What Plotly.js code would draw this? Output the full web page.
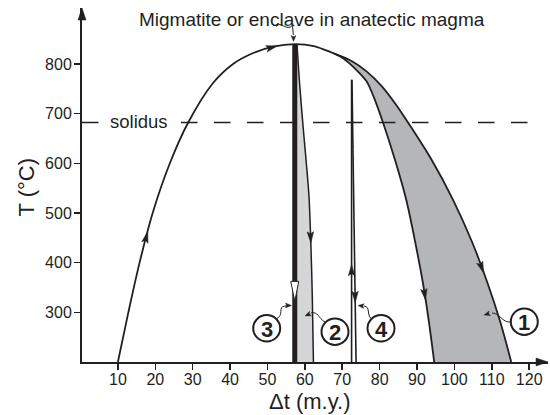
<!DOCTYPE html>
<html><head><meta charset="utf-8">
<script src="https://cdn.plot.ly/plotly-3.0.1.min.js"></script>
<style>html,body{margin:0;padding:0;background:#fff;}#chart{width:550px;height:415px;}</style>
</head><body><div id="chart"></div>
<script>
// ---- Data (Δt in m.y., T in °C) ----
const archX  = [10, 12.8, 15.8, 19.3, 23.9, 28.8, 35.5, 40.8, 46.2, 51.5, 57.4, 62.4, 67.5];
const archT  = [200, 300, 400, 500, 600, 682, 762, 800, 822, 835, 840, 836, 822];
const outerX = [67.5, 72.5, 76.5, 80.6, 84.4, 87.6, 93.9, 99.6, 104.7, 108.9, 112.3, 115.2];
const outerT = [822, 806, 785, 755, 718, 682, 607, 527, 442, 358, 280, 200];
const innerX = [67.5, 70.5, 73.5, 76.5, 78.6, 80.9, 84.1, 87.1, 89.5, 91.6, 93.2, 94.6];
const innerT = [822, 810, 790, 765, 730, 682, 607, 527, 442, 358, 280, 200];
const path2X = [57.9, 58.6, 59.6, 60.4, 61.1, 61.6, 62.0, 62.3];
const path2T = [840, 760, 668, 600, 534, 440, 330, 200];
const path3X = [57.3, 57.3];
const path3T = [840, 200];
const path4UpX = [72.5, 72.5];
const path4UpT = [200, 768];
const path4DownX = [72.6, 73.7];
const path4DownT = [768, 200];
const solidusT = 682;
const xTicks = [10, 20, 30, 40, 50, 60, 70, 80, 90, 100, 110, 120];
const yTicks = [300, 400, 500, 600, 700, 800];
const pathLabels = ['1', '2', '3', '4'];

// ---- Layout geometry ----
const INK = '#231f20';
const FONT = 'Liberation Sans, Arial, Helvetica, sans-serif';
const W = 550, H = 415;
const M = {l: 82, r: 2, t: 8, b: 53};
const pw = W - M.l - M.r, ph = H - M.t - M.b;
const kx = 3.739, ky = 0.4968;           // px per unit
const X0 = 0.4, X1 = X0 + pw / kx;
const Y0 = 200, Y1 = Y0 + ph / ky;

function interpByT(xs, ts, T) {
  for (let i = 0; i < ts.length - 1; i++) {
    const a = ts[i], b = ts[i + 1];
    if (a !== b && (T - a) * (T - b) <= 0) return xs[i] + (xs[i + 1] - xs[i]) * (T - a) / (b - a);
  }
  return xs[0];
}
function interpByX(xs, ts, X) {
  for (let i = 0; i < xs.length - 1; i++) {
    const a = xs[i], b = xs[i + 1];
    if (a !== b && (X - a) * (X - b) <= 0) return ts[i] + (ts[i + 1] - ts[i]) * (X - a) / (b - a);
  }
  return ts[0];
}
function paper(px, py) { return [(px - M.l) / pw, (H - M.b - py) / ph]; }
function P(px, py) { const p = paper(px, py); return p[0].toFixed(5) + ',' + p[1].toFixed(5); }
function f(v) { return v.toFixed(2); }

// arrowhead path shape: tip at anchor, direction (dx, dyUp) in pixels
function head(xref, yref, ax, ay, dx, dy, L, w, notch, fill, lw) {
  const n = Math.hypot(dx, dy), ux = dx / n, uy = dy / n;
  const qx = -uy, qy = ux;
  const bx = -L * ux, by = -L * uy;
  const nx = -notch * L * ux, ny = -notch * L * uy;
  const path = 'M0,0 L' + f(bx + w * qx) + ',' + f(by + w * qy) + ' L' + f(nx) + ',' + f(ny) +
               ' L' + f(bx - w * qx) + ',' + f(by - w * qy) + ' Z';
  return {type: 'path', xref: xref, yref: yref, xsizemode: 'pixel', ysizemode: 'pixel',
          xanchor: ax, yanchor: ay, path: path, fillcolor: fill, line: {color: INK, width: lw}, layer: 'above'};
}

const SM = 0.9;
const fullX = archX.concat(outerX.slice(1)), fullT = archT.concat(outerT.slice(1));
const traces = [];
// filled region 1: between the outer (upper) branch and the inner branch
traces.push({x: fullX.slice(archX.length - 2), y: fullT.slice(archT.length - 2), mode: 'lines',
  line: {width: 0, shape: 'spline', smoothing: SM}, hoverinfo: 'skip'});
traces.push({x: innerX, y: innerT, mode: 'lines', fill: 'tonextx', fillcolor: '#b4b6b8',
  line: {width: 0, shape: 'spline', smoothing: SM}, hoverinfo: 'skip'});
// filled region 2: between path 3 and path 2
traces.push({x: path2X.concat([path2X[0]]), y: path2T.concat([path2T[path2T.length - 1]]),
  mode: 'lines', fill: 'toself', fillcolor: '#d4d6d8', line: {width: 0}, hoverinfo: 'skip'});
// lines
traces.push({x: fullX, y: fullT, mode: 'lines', line: {color: INK, width: 1.8, shape: 'spline', smoothing: SM}});
traces.push({x: innerX, y: innerT, mode: 'lines', line: {color: INK, width: 1.8, shape: 'spline', smoothing: SM}});
traces.push({x: path2X, y: path2T, mode: 'lines', line: {color: INK, width: 1.5, shape: 'spline', smoothing: SM}});
traces.push({x: path4UpX, y: path4UpT, mode: 'lines', line: {color: INK, width: 1.6}});
traces.push({x: path4DownX, y: path4DownT, mode: 'lines', line: {color: INK, width: 1.6}});
traces.push({x: path3X, y: path3T, mode: 'lines', line: {color: INK, width: 5}});

const shapes = [];
// solidus
shapes.push({type: 'line', xref: 'paper', x0: 0, x1: 0.985, yref: 'y', y0: solidusT, y1: solidusT,
  line: {color: INK, width: 1.6, dash: '16.5px,16.5px'}, layer: 'above'});

// direction arrows on curves
const arrowsT = [
  [archX, archT, 462, 430],
  [path2X, path2T, 440, 470],
  [path4UpX, path4UpT, 396, 370],
  [path4DownX, path4DownT, 320, 345],
  [innerX, innerT, 325, 350],
  [outerX, outerT, 380, 405]
];
arrowsT.forEach(a => {
  const xt = interpByT(a[0], a[1], a[2]), xs = interpByT(a[0], a[1], a[3]);
  shapes.push(head('x', 'y', xt, a[2], (xt - xs) * kx, (a[2] - a[3]) * ky, 11, 3.2, 0.8, INK, 0.6));
});
{ // arrow on top of the arch, moving right
  const tipX = 52.6, tailX = 49.5;
  const tt = interpByX(fullX, fullT, tipX), ts = interpByX(fullX, fullT, tailX);
  shapes.push(head('x', 'y', tipX, tt, (tipX - tailX) * kx, (tt - ts) * ky, 11, 3.2, 0.8, INK, 0.6));
}
// white arrow on the thick path 3
shapes.push(head('x', 'y', path3X[0], 322, 0, -1, 20, 4, 1, '#ffffff', 1));

// axis arrowheads
shapes.push(head('paper', 'paper', 1, 0, 1, 0, 12, 4, 1, INK, 0.5));
shapes.push(head('paper', 'paper', 0, 1, 0, 1, 12, 4, 1, INK, 0.5));

// circled labels and wavy leaders (screen pixel positions)
const circles = {'1': [524.3, 321.7], '2': [335, 331.7], '3': [266.7, 328.3], '4': [381, 328.3]};
const leaders = [
  {d: 'M' + P(276, 319) + ' C' + P(285, 315) + ' ' + P(277, 307) + ' ' + P(285, 306) + ' L' + P(289, 305.6), tip: [291.5, 305.5], dir: [1, 0]},
  {d: 'M' + P(325, 322) + ' C' + P(318, 318) + ' ' + P(318, 311) + ' ' + P(311, 313), tip: [305, 316], dir: [-1, -0.45]},
  {d: 'M' + P(371.5, 319) + ' C' + P(366, 314) + ' ' + P(371, 307) + ' ' + P(364, 306), tip: [358, 305.5], dir: [-1, 0.1]},
  {d: 'M' + P(511, 322) + ' C' + P(502, 323) + ' ' + P(500, 313) + ' ' + P(492, 313), tip: [484, 315], dir: [-1, -0.3]},
  {d: 'M' + P(276.5, 26.5) + ' C' + P(281, 20) + ' ' + P(286, 32) + ' ' + P(292.5, 25.5) + ' L' + P(293.3, 35), tip: [293.5, 41.5], dir: [0, -1]}
];
leaders.forEach(l => {
  shapes.push({type: 'path', xref: 'paper', yref: 'paper', path: l.d, line: {color: INK, width: 1}, layer: 'above'});
  const t = paper(l.tip[0], l.tip[1]);
  shapes.push(head('paper', 'paper', t[0], t[1], l.dir[0], l.dir[1], 6, 2.4, 0.8, INK, 0.4));
});
const annotations = [];
pathLabels.forEach(k => {
  const c = paper(circles[k][0], circles[k][1]);
  shapes.push({type: 'circle', xref: 'paper', yref: 'paper', xsizemode: 'pixel', ysizemode: 'pixel',
    xanchor: c[0], yanchor: c[1], x0: -13.5, x1: 13.5, y0: -13.2, y1: 13.2,
    fillcolor: '#ffffff', line: {color: INK, width: 2}, layer: 'above'});
  annotations.push({xref: 'paper', yref: 'paper', x: c[0], y: paper(0, circles[k][1] + 0.8)[1], text: '<b>' + k + '</b>',
    showarrow: false, xanchor: 'center', yanchor: 'middle', font: {family: FONT, size: 22, color: INK}});
});

// texts
function txt(text, px, py, size, extra) {
  const p = paper(px, py);
  return Object.assign({xref: 'paper', yref: 'paper', x: p[0], y: p[1], text: text, showarrow: false,
    xanchor: 'center', yanchor: 'middle', font: {family: FONT, size: size, color: INK}}, extra || {});
}
annotations.push(txt('Migmatite or enclave in anatectic magma', 311.5, 19.5, 19));
annotations.push(txt('solidus', 139, 121.5, 18.5, {bgcolor: '#ffffff', borderpad: 2}));
annotations.push(txt('T (°C)', 26, 187.5, 22, {textangle: -90}));
annotations.push(txt('Δt (m.y.)', 310, 401, 22));

const axisCommon = {showgrid: false, zeroline: false, showline: true, linecolor: INK, linewidth: 2,
  ticks: 'outside', ticklen: 6, tickwidth: 1.5, tickcolor: INK, tickfont: {family: FONT, size: 16, color: INK},
  fixedrange: true};
const layout = {
  width: W, height: H, margin: M, paper_bgcolor: '#ffffff', plot_bgcolor: '#ffffff', showlegend: false,
  xaxis: Object.assign({}, axisCommon, {range: [X0, X1], tickmode: 'array', tickvals: xTicks, ticktext: xTicks.map(String), ticklabelstandoff: -4}),
  yaxis: Object.assign({}, axisCommon, {range: [Y0, Y1], tickmode: 'array', tickvals: yTicks, ticktext: yTicks.map(String), ticklabelstandoff: -1}),
  shapes: shapes, annotations: annotations
};
Plotly.newPlot('chart', traces, layout, {staticPlot: true, displayModeBar: false});
</script></body></html>
